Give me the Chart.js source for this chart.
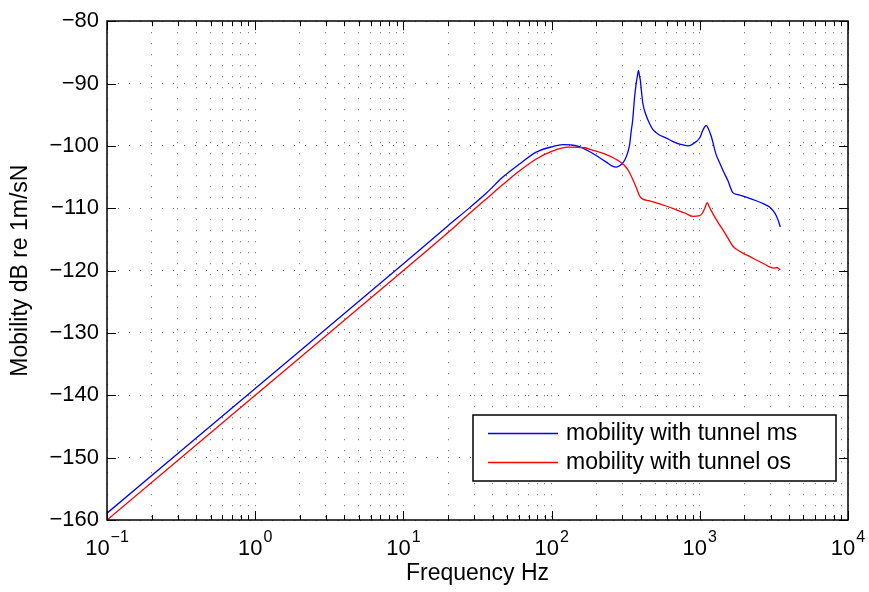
<!DOCTYPE html>
<html>
<head>
<meta charset="utf-8">
<script src="https://cdn.jsdelivr.net/npm/chart.js@4.4.1/dist/chart.umd.min.js"></script>
<style>
html,body{margin:0;padding:0;background:#fff;}
#wrap{width:869px;height:592px;position:relative;}
</style>
</head>
<body>
<div id="wrap"><canvas id="c" width="869" height="592"></canvas></div>
<script>
// ---- data ----
const seriesLabels = ['mobility with tunnel ms', 'mobility with tunnel os'];

const freqMs = [0.1, 1, 10, 20, 28, 36.2, 46.9, 60.8, 78.8, 102, 119, 135, 154, 180, 211, 234, 255, 273, 295, 311, 325, 336, 345, 352, 363, 372, 379, 386, 392, 397, 405, 413, 430, 446, 483, 530, 594, 660, 731, 832, 947, 1000, 1040, 1075, 1106, 1140, 1196, 1289, 1361, 1450, 1549, 1671, 1806, 2100, 2404, 2700, 2958, 3150, 3281, 3400, 3491];
const mobilityMs = [-158.9, -138.9, -118.9, -112.8, -109.9, -107.6, -105.0, -102.9, -101.0, -100.1, -99.8, -99.85, -100.1, -100.9, -101.9, -102.6, -103.2, -103.4, -103.0, -102.3, -101.2, -99.8, -97.5, -96.0, -92.2, -90.0, -88.8, -87.9, -88.8, -89.5, -91.5, -93.2, -94.8, -95.8, -97.4, -98.2, -98.75, -99.3, -99.7, -100.0, -99.3, -98.7, -97.7, -97.0, -96.7, -97.2, -98.5, -101.4, -102.7, -104.2, -105.6, -107.5, -107.8, -108.3, -108.8, -109.3, -109.8, -110.5, -111.2, -112.1, -113.0];

const freqOs = [0.1, 1, 10, 20, 28, 36.2, 46.9, 60.8, 78.8, 102, 129, 167, 190, 210, 234, 260, 288, 315, 336, 355, 373, 392, 410, 458, 535, 620, 700, 800, 898, 997, 1040, 1080, 1124, 1160, 1227, 1330, 1435, 1550, 1671, 1800, 1954, 2200, 2404, 2700, 2958, 3150, 3311, 3420, 3491];
const mobilityOs = [-160.0, -140.0, -120.0, -113.9, -110.8, -108.5, -106.2, -104.0, -102.1, -100.8, -100.2, -100.3, -100.7, -101.0, -101.4, -101.9, -102.5, -103.3, -104.3, -105.5, -106.7, -108.0, -108.5, -108.8, -109.3, -109.8, -110.3, -110.8, -111.3, -111.2, -110.8, -110.0, -109.1, -109.8, -110.9, -112.3, -113.5, -114.8, -116.1, -116.7, -117.2, -117.8, -118.3, -118.9, -119.4, -119.6, -119.5, -119.7, -119.9];

const yTicks = [-160, -150, -140, -130, -120, -110, -100, -90, -80];
const xDecadeExponents = [-1, 0, 1, 2, 3, 4];
const xMinorMultipliers = [1, 2, 3, 4, 5, 6, 7, 8, 9];

// ---- derived tick positions (decades and the 2..9 minors) ----
const xTickValues = [];
xDecadeExponents.forEach(e => {
  if (e === xDecadeExponents[xDecadeExponents.length - 1]) {
    xTickValues.push({ value: Math.pow(10, e), major: true, exp: e });
  } else {
    xMinorMultipliers.forEach(m => {
      xTickValues.push({ value: Number((m * Math.pow(10, e)).toPrecision(12)), major: m === 1, exp: e });
    });
  }
});

const FONT = "'Liberation Sans', Arial, Helvetica, sans-serif";
Chart.defaults.font.family = FONT;
Chart.defaults.color = '#000';

const matlabFrame = {
  id: 'matlabFrame',
  afterDraw(chart) {
    const { ctx, chartArea: a, scales: { x, y } } = chart;
    ctx.save();
    // inward tick marks
    ctx.strokeStyle = '#000';
    ctx.lineWidth = 1;
    ctx.beginPath();
    xTickValues.forEach(t => {
      const px = Math.round(x.getPixelForValue(t.value)) + 0.5;
      const len = t.major ? 9 : 5;
      ctx.moveTo(px, a.bottom); ctx.lineTo(px, a.bottom - len);
      ctx.moveTo(px, a.top); ctx.lineTo(px, a.top + len);
    });
    yTicks.forEach(v => {
      const py = Math.round(y.getPixelForValue(v)) + 0.5;
      ctx.moveTo(a.left, py); ctx.lineTo(a.left + 9, py);
      ctx.moveTo(a.right, py); ctx.lineTo(a.right - 9, py);
    });
    ctx.stroke();
    // box
    ctx.lineWidth = 1.5;
    ctx.strokeRect(Math.round(a.left), Math.round(a.top), Math.round(a.right - a.left), Math.round(a.bottom - a.top));

    // x decade labels 10^n
    ctx.fillStyle = '#000';
    ctx.textBaseline = 'alphabetic';
    ctx.textAlign = 'left';
    xTickValues.filter(t => t.major).forEach(t => {
      const px = x.getPixelForValue(t.value);
      const base = '10';
      const expo = String(t.exp).replace('-', '\u2212');
      ctx.font = '22px ' + FONT;
      const w1 = ctx.measureText(base).width;
      ctx.font = '16px ' + FONT;
      const w2 = ctx.measureText(expo).width;
      const start = px - (w1 + 1 + w2) / 2;
      ctx.font = '22px ' + FONT;
      ctx.fillText(base, start, a.bottom + 35);
      ctx.font = '16px ' + FONT;
      ctx.fillText(expo, start + w1 + 1, a.bottom + 22);
    });

    // legend (south-east inside the axes)
    const bw = 363, bh = 66;
    const bx = Math.round(a.right - 12 - bw), by = Math.round(a.bottom - 39 - bh);
    ctx.fillStyle = '#fff';
    ctx.fillRect(bx, by, bw, bh);
    ctx.strokeStyle = '#000';
    ctx.lineWidth = 1.5;
    ctx.strokeRect(bx, by, bw, bh);
    ctx.font = '23px ' + FONT;
    ctx.textBaseline = 'middle';
    chart.data.datasets.forEach((ds, i) => {
      const ry = by + 18 + i * 29;
      ctx.strokeStyle = ds.borderColor;
      ctx.lineWidth = 1.3;
      ctx.beginPath();
      ctx.moveTo(bx + 15, ry + 0.5); ctx.lineTo(bx + 85, ry + 0.5);
      ctx.stroke();
      ctx.fillStyle = '#000';
      ctx.fillText(ds.label, bx + 93, ry + 1);
    });
    ctx.restore();
  }
};

new Chart(document.getElementById('c'), {
  type: 'scatter',
  data: {
    datasets: [
      {
        label: seriesLabels[0],
        data: freqMs.map((f, i) => ({ x: f, y: mobilityMs[i] })),
        borderColor: '#0000ff', backgroundColor: '#0000ff',
        showLine: true, pointRadius: 0, borderWidth: 1.3,
        cubicInterpolationMode: 'monotone', order: 1
      },
      {
        label: seriesLabels[1],
        data: freqOs.map((f, i) => ({ x: f, y: mobilityOs[i] })),
        borderColor: '#ff0000', backgroundColor: '#ff0000',
        showLine: true, pointRadius: 0, borderWidth: 1.3,
        cubicInterpolationMode: 'monotone', order: 0
      }
    ]
  },
  options: {
    responsive: false,
    animation: false,
    devicePixelRatio: 1,
    layout: { padding: { top: 15, right: 21, left: 0, bottom: 0 } },
    plugins: { legend: { display: false }, tooltip: { enabled: false } },
    scales: {
      x: {
        type: 'logarithmic', min: 0.1, max: 10000,
        afterBuildTicks: s => { s.ticks = xTickValues.map(t => ({ value: t.value, major: t.major })); },
        afterFit: s => { s.height = 72; },
        ticks: { display: false, autoSkip: false },
        grid: { color: '#666', lineWidth: 1, drawTicks: false },
        border: { display: false, dash: [1, 10] },
        title: { display: true, text: 'Frequency Hz', color: '#000', font: { size: 23 }, padding: { top: 0, bottom: 5 } }
      },
      y: {
        min: -160, max: -80,
        afterBuildTicks: s => { s.ticks = yTicks.map(v => ({ value: v })); },
        afterFit: s => { s.width = 107; },
        ticks: { padding: 8, color: '#000', font: { size: 22 }, callback: v => String(v).replace('-', '\u2212') },
        grid: { color: '#666', lineWidth: 1, drawTicks: false },
        border: { display: false, dash: [1, 10] },
        title: { display: true, text: 'Mobility dB re 1m/sN', color: '#000', font: { size: 23 }, padding: { top: 7, bottom: 0 } }
      }
    }
  },
  plugins: [matlabFrame]
});
</script>
</body>
</html>
